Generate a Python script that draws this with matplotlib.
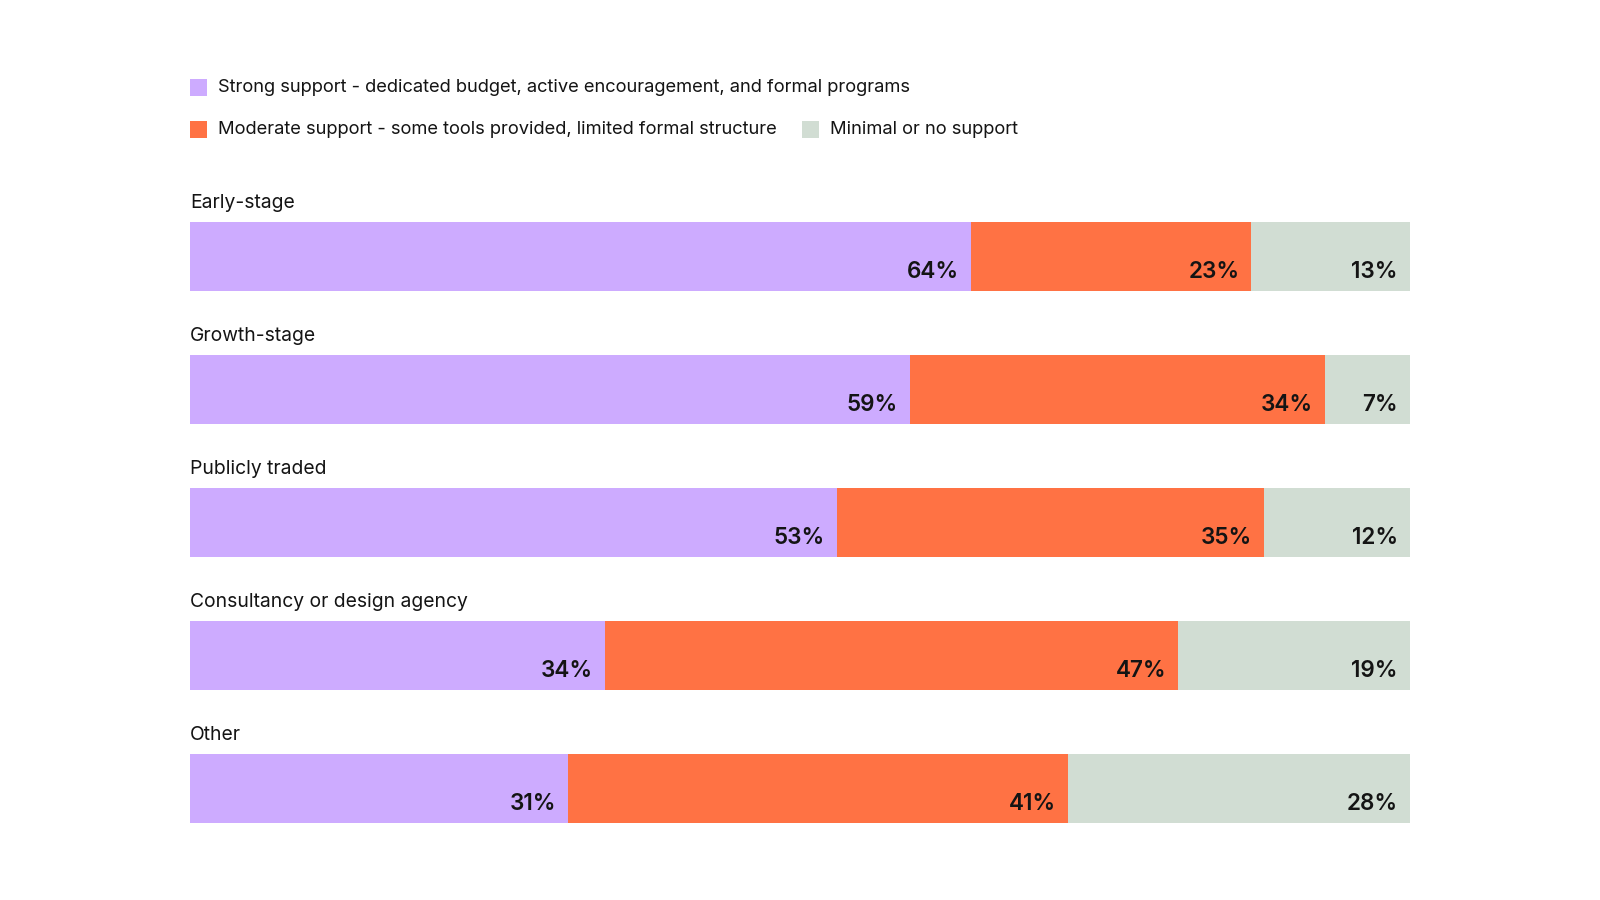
import matplotlib
matplotlib.use('Agg')
import matplotlib.pyplot as plt
from matplotlib.patches import Rectangle
import numpy as np

plt.rcParams['font.family'] = ['Inter', 'DejaVu Sans']

# Data
categories = ['Early-stage', 'Growth-stage', 'Publicly traded',
              'Consultancy or design agency', 'Other']
strong = [64, 59, 53, 34, 31]
moderate = [23, 34, 35, 47, 41]
minimal = [13, 7, 12, 19, 28]
series_names = ['Strong support - dedicated budget, active encouragement, and formal programs',
                'Moderate support - some tools provided, limited formal structure',
                'Minimal or no support']
colors = ['#CDABFF', '#FF7244', '#D1DDD3']
text_color = '#141414'

W, H = 1600, 900
fig = plt.figure(figsize=(16, 9), dpi=100)
fig.patch.set_facecolor('white')

# bar area in pixels
x0, x1 = 190, 1410
y_top, y_bot = 222, 823
ax = fig.add_axes([x0 / W, 1 - y_bot / H, (x1 - x0) / W, (y_bot - y_top) / H])

bar_h = 0.52
y = np.arange(len(categories))
left = np.zeros(len(categories))
for vals, c in zip([strong, moderate, minimal], colors):
    vals = np.array(vals)
    bars = ax.barh(y, vals, left=left, height=bar_h, color=c, edgecolor='none')
    for b, v in zip(bars, vals):
        ax.annotate(f'{v}%', (b.get_x() + b.get_width(), b.get_y() + b.get_height()),
                    xytext=(-12, 13), textcoords='offset pixels',
                    ha='right', va='baseline', fontsize=16.2, fontweight='semibold',
                    color=text_color)
    left += vals

for i, cat in enumerate(categories):
    ax.text(0, i - bar_h / 2 - 0.105, cat, ha='left', va='baseline',
            fontsize=13.9, color=text_color, clip_on=False)

ax.set_xlim(0, 100)
ax.set_ylim(len(categories) - 1 + bar_h / 2, -bar_h / 2)
ax.axis('off')

# legend, laid out in two rows like the original
leg_items = [(0, 190, 87), (1, 190, 129), (2, 802, 129)]
sq = 17
for idx, px, py in leg_items:
    fig.patches.append(Rectangle((px / W, 1 - (py + sq / 2) / H), sq / W, sq / H,
                                 transform=fig.transFigure, facecolor=colors[idx],
                                 edgecolor='none'))
    fig.text((px + 28) / W, 1 - py / H, series_names[idx], ha='left', va='center',
             fontsize=13.2, color=text_color)

fig.savefig('out.png', dpi=100, facecolor='white')
